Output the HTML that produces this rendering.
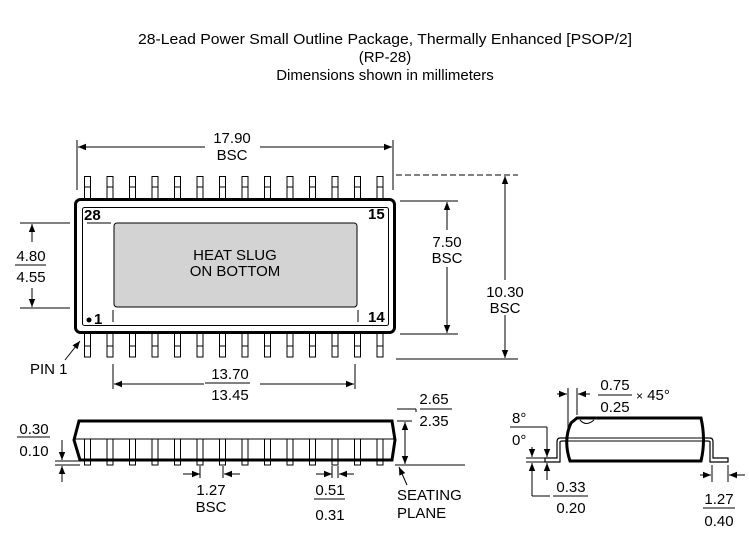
<!DOCTYPE html>
<html><head><style>body{margin:0;background:#fff}svg{display:block}text{font-family:"Liberation Sans",Arial,sans-serif;font-size:15px;fill:#000}</style></head><body>
<svg width="749" height="541" viewBox="0 0 749 541" xmlns="http://www.w3.org/2000/svg">
<defs>
<marker id="a" viewBox="0 0 10 10" refX="10" refY="5" markerWidth="10" markerHeight="8" markerUnits="userSpaceOnUse" orient="auto"><path d="M0,1 L10,5 L0,9 Z" fill="#000"/></marker>
</defs>
<g text-anchor="middle">
<text x="385" y="44" textLength="494" lengthAdjust="spacingAndGlyphs">28-Lead Power Small Outline Package, Thermally Enhanced [PSOP/2]</text>
<text x="385" y="62">(RP-28)</text>
<text x="385" y="80">Dimensions shown in millimeters</text>
</g>
<g fill="#fff" stroke="#000" stroke-width="1">
<rect x="84.5" y="176.5" width="6" height="22"/><rect x="107" y="176.5" width="6" height="22"/><rect x="129.5" y="176.5" width="6" height="22"/><rect x="152" y="176.5" width="6" height="22"/><rect x="174.5" y="176.5" width="6" height="22"/><rect x="197" y="176.5" width="6" height="22"/><rect x="219.5" y="176.5" width="6" height="22"/><rect x="242" y="176.5" width="6" height="22"/><rect x="264.5" y="176.5" width="6" height="22"/><rect x="287" y="176.5" width="6" height="22"/><rect x="309.5" y="176.5" width="6" height="22"/><rect x="332" y="176.5" width="6" height="22"/><rect x="354.5" y="176.5" width="6" height="22"/><rect x="377" y="176.5" width="6" height="22"/>
<rect x="84.5" y="333" width="6" height="24"/><rect x="107" y="333" width="6" height="24"/><rect x="129.5" y="333" width="6" height="24"/><rect x="152" y="333" width="6" height="24"/><rect x="174.5" y="333" width="6" height="24"/><rect x="197" y="333" width="6" height="24"/><rect x="219.5" y="333" width="6" height="24"/><rect x="242" y="333" width="6" height="24"/><rect x="264.5" y="333" width="6" height="24"/><rect x="287" y="333" width="6" height="24"/><rect x="309.5" y="333" width="6" height="24"/><rect x="332" y="333" width="6" height="24"/><rect x="354.5" y="333" width="6" height="24"/><rect x="377" y="333" width="6" height="24"/>
</g>
<g stroke="#000" stroke-width="1"><line x1="84.5" y1="187" x2="90.5" y2="187"/><line x1="107" y1="187" x2="113" y2="187"/><line x1="129.5" y1="187" x2="135.5" y2="187"/><line x1="152" y1="187" x2="158" y2="187"/><line x1="174.5" y1="187" x2="180.5" y2="187"/><line x1="197" y1="187" x2="203" y2="187"/><line x1="219.5" y1="187" x2="225.5" y2="187"/><line x1="242" y1="187" x2="248" y2="187"/><line x1="264.5" y1="187" x2="270.5" y2="187"/><line x1="287" y1="187" x2="293" y2="187"/><line x1="309.5" y1="187" x2="315.5" y2="187"/><line x1="332" y1="187" x2="338" y2="187"/><line x1="354.5" y1="187" x2="360.5" y2="187"/><line x1="377" y1="187" x2="383" y2="187"/>
<line x1="84.5" y1="346" x2="90.5" y2="346"/><line x1="107" y1="346" x2="113" y2="346"/><line x1="129.5" y1="346" x2="135.5" y2="346"/><line x1="152" y1="346" x2="158" y2="346"/><line x1="174.5" y1="346" x2="180.5" y2="346"/><line x1="197" y1="346" x2="203" y2="346"/><line x1="219.5" y1="346" x2="225.5" y2="346"/><line x1="242" y1="346" x2="248" y2="346"/><line x1="264.5" y1="346" x2="270.5" y2="346"/><line x1="287" y1="346" x2="293" y2="346"/><line x1="309.5" y1="346" x2="315.5" y2="346"/><line x1="332" y1="346" x2="338" y2="346"/><line x1="354.5" y1="346" x2="360.5" y2="346"/><line x1="377" y1="346" x2="383" y2="346"/></g>
<rect x="75.5" y="199.5" width="319" height="133" rx="5" fill="#fff" stroke="#000" stroke-width="3"/>
<rect x="82.5" y="207.5" width="306" height="118" rx="2" fill="none" stroke="#000" stroke-width="1"/>
<rect x="114" y="223" width="243" height="84" rx="3" fill="#d3d3d3" stroke="#000" stroke-width="1"/>
<g stroke="#000" stroke-width="1"><line x1="87" y1="223" x2="111" y2="223"/><line x1="113" y1="310" x2="113" y2="322"/><line x1="358" y1="310" x2="358" y2="322"/></g>
<text x="235" y="260" text-anchor="middle">HEAT SLUG</text>
<text x="235" y="276" text-anchor="middle">ON BOTTOM</text>
<g font-weight="bold" font-size="12"><text x="84" y="220">28</text><text x="368" y="219">15</text><text x="368" y="322">14</text><text x="94" y="324">1</text></g>
<circle cx="89" cy="320" r="2.5"/>
<g stroke="#000" stroke-width="1" fill="none">
<line x1="77" y1="140" x2="77" y2="190"/><line x1="393" y1="140" x2="393" y2="190"/>
<line x1="205" y1="147" x2="78" y2="147" marker-end="url(#a)"/><line x1="260" y1="147" x2="392" y2="147" marker-end="url(#a)"/>
<line x1="20" y1="223" x2="70" y2="223"/><line x1="20" y1="308" x2="70" y2="308"/>
<line x1="32" y1="242" x2="32" y2="224" marker-end="url(#a)"/><line x1="32" y1="288" x2="32" y2="307" marker-end="url(#a)"/>
<line x1="15" y1="265" x2="46" y2="265"/>
<line x1="400" y1="201" x2="458" y2="201"/><line x1="400" y1="334" x2="458" y2="334"/>
<line x1="447" y1="230" x2="447" y2="202" marker-end="url(#a)"/><line x1="447" y1="267" x2="447" y2="333" marker-end="url(#a)"/>
<line x1="396" y1="175" x2="518" y2="175" stroke-dasharray="6,3"/><line x1="396" y1="359" x2="518" y2="359"/>
<line x1="505" y1="280" x2="505" y2="176" marker-end="url(#a)"/><line x1="505" y1="315" x2="505" y2="358" marker-end="url(#a)"/>
<line x1="113" y1="364" x2="113" y2="389"/><line x1="355" y1="364" x2="355" y2="389"/>
<line x1="204" y1="384" x2="114" y2="384" marker-end="url(#a)"/><line x1="260" y1="384" x2="354" y2="384" marker-end="url(#a)"/>
<line x1="205" y1="383" x2="250" y2="383"/>
<line x1="65" y1="360" x2="80" y2="341" marker-end="url(#a)"/>
</g>
<g text-anchor="middle">
<text x="232" y="143">17.90</text><text x="232" y="160">BSC</text>
<text x="31" y="261">4.80</text><text x="31" y="282">4.55</text>
<text x="447" y="247">7.50</text><text x="447" y="263">BSC</text>
<text x="505" y="297">10.30</text><text x="505" y="313">BSC</text>
<text x="230" y="379">13.70</text><text x="230" y="400">13.45</text>
</g>
<text x="30" y="374">PIN 1</text>
<g stroke="#000" stroke-width="1" fill="#fff">
<rect x="84.5" y="439" width="6" height="26"/><rect x="107" y="439" width="6" height="26"/><rect x="129.5" y="439" width="6" height="26"/><rect x="152" y="439" width="6" height="26"/><rect x="174.5" y="439" width="6" height="26"/><rect x="197" y="439" width="6" height="26"/><rect x="219.5" y="439" width="6" height="26"/><rect x="242" y="439" width="6" height="26"/><rect x="264.5" y="439" width="6" height="26"/><rect x="287" y="439" width="6" height="26"/><rect x="309.5" y="439" width="6" height="26"/><rect x="332" y="439" width="6" height="26"/><rect x="354.5" y="439" width="6" height="26"/><rect x="377" y="439" width="6" height="26"/>
</g>
<path d="M79,421 L392,421 L395,440 L392,460 L80,460 L74,440 Z" fill="none" stroke="#000" stroke-width="3"/>
<line x1="75" y1="439" x2="394" y2="439" stroke="#000" stroke-width="1"/>
<g stroke="#000" stroke-width="1" fill="none">
<line x1="55" y1="461" x2="80" y2="461"/><line x1="55" y1="465" x2="80" y2="465"/>
<line x1="62" y1="440" x2="62" y2="460" marker-end="url(#a)"/><line x1="62" y1="482" x2="62" y2="466" marker-end="url(#a)"/>
<line x1="17" y1="437" x2="50" y2="437"/>
<line x1="395" y1="465" x2="465" y2="465"/><line x1="397" y1="421" x2="412" y2="421"/>
<line x1="397" y1="409" x2="416" y2="409"/><line x1="416" y1="409" x2="416" y2="412"/>
<line x1="405" y1="445" x2="405" y2="422" marker-end="url(#a)"/><line x1="405" y1="440" x2="405" y2="464" marker-end="url(#a)"/>
<line x1="420" y1="409" x2="452" y2="409"/>
<line x1="183" y1="474" x2="200" y2="474" marker-end="url(#a)"/><line x1="240" y1="474" x2="224" y2="474" marker-end="url(#a)"/>
<line x1="200" y1="466" x2="200" y2="478"/><line x1="223" y1="466" x2="223" y2="478"/>
<line x1="316" y1="474" x2="332" y2="474" marker-end="url(#a)"/><line x1="354" y1="474" x2="339" y2="474" marker-end="url(#a)"/>
<line x1="332" y1="466" x2="332" y2="478"/><line x1="338" y1="466" x2="338" y2="478"/>
<line x1="314" y1="499" x2="345" y2="499"/>
<line x1="407" y1="485" x2="399" y2="467" marker-end="url(#a)"/>
</g>
<g text-anchor="middle">
<text x="34" y="434">0.30</text><text x="34" y="456">0.10</text>
<text x="434" y="404">2.65</text><text x="434" y="426">2.35</text>
<text x="211" y="495">1.27</text><text x="211" y="512">BSC</text>
<text x="330" y="495">0.51</text><text x="330" y="520">0.31</text>
</g>
<text x="397" y="500">SEATING</text><text x="397" y="518">PLANE</text>
<g stroke="#000" fill="none">
<path d="M568,438 L560,438 Q557,438 557,442 L557,458 L545,458 L545,462 L560,462 L560,442 Q560,441 563,441 L568,441" stroke-width="1.2"/>
<path d="M702,438 L710,438 Q713,438 713,442 L713,458 L728,458 L728,462 L710,462 L710,442 Q710,441 707,441 L702,441" stroke-width="1.2"/>
<path d="M577,418 L701,418 Q706,440 701,461 L570,461 Q563,440 571,423 Z" fill="#fff" stroke-width="3"/>
<line x1="568" y1="438" x2="702" y2="438" stroke-width="1"/><line x1="568" y1="441" x2="702" y2="441" stroke-width="1"/>
<path d="M580,420 Q586,427 594,420" stroke-width="1"/>
<line x1="568" y1="388" x2="568" y2="430" stroke-width="1"/><line x1="577" y1="388" x2="577" y2="415" stroke-width="1"/>
<line x1="557" y1="394" x2="567" y2="394" marker-end="url(#a)" stroke-width="1"/><line x1="590" y1="394" x2="578" y2="394" marker-end="url(#a)" stroke-width="1"/>
<line x1="598" y1="395" x2="632" y2="395" stroke-width="1"/>
<line x1="510" y1="427" x2="547" y2="427" stroke-width="1"/><line x1="547" y1="427" x2="547" y2="450" stroke-width="1"/>
<line x1="532" y1="447" x2="532" y2="457" marker-end="url(#a)" stroke-width="1"/><line x1="532" y1="475" x2="532" y2="463" marker-end="url(#a)" stroke-width="1"/>
<line x1="526" y1="458" x2="545" y2="458" stroke-width="1"/><line x1="526" y1="462" x2="545" y2="462" stroke-width="1"/>
<line x1="547" y1="447" x2="547" y2="457" marker-end="url(#a)" stroke-width="1"/><line x1="547" y1="475" x2="547" y2="463" marker-end="url(#a)" stroke-width="1"/>
<line x1="532" y1="475" x2="532" y2="496" stroke-width="1"/><line x1="532" y1="496" x2="550" y2="496" stroke-width="1"/>
<line x1="547" y1="475" x2="547" y2="480" stroke-width="1"/>
<line x1="553" y1="496" x2="588" y2="496" stroke-width="1"/>
<line x1="712" y1="465" x2="712" y2="482" stroke-width="1"/><line x1="728" y1="465" x2="728" y2="482" stroke-width="1"/>
<line x1="700" y1="475" x2="711" y2="475" marker-end="url(#a)" stroke-width="1"/><line x1="745" y1="475" x2="729" y2="475" marker-end="url(#a)" stroke-width="1"/>
<line x1="703" y1="508" x2="735" y2="508" stroke-width="1"/>
</g>
<g text-anchor="middle">
<text x="615" y="390">0.75</text><text x="615" y="412">0.25</text>
<text x="571" y="492">0.33</text><text x="571" y="513">0.20</text>
<text x="719" y="504">1.27</text><text x="719" y="526">0.40</text>
</g>
<text x="636" y="400"><tspan font-size="12">×</tspan> 45°</text>
<text x="512" y="423">8°</text><text x="512" y="445">0°</text>
</svg>
</body></html>
